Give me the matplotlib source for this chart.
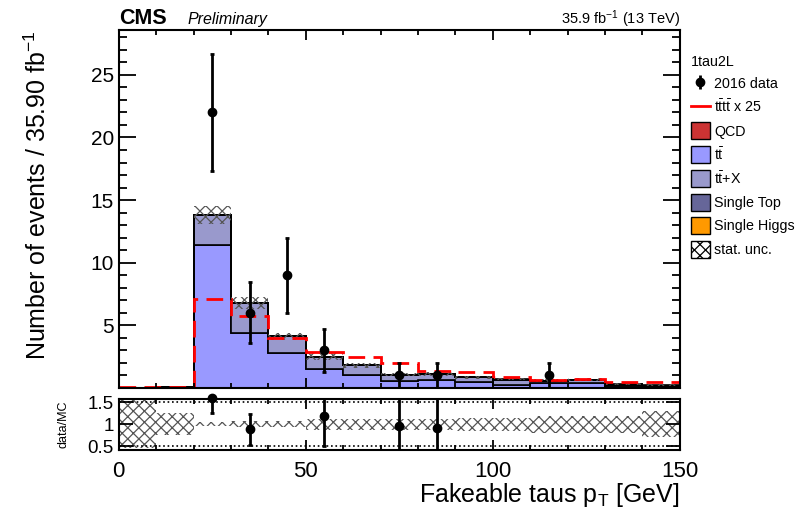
import numpy as np
import matplotlib
matplotlib.use("Agg")
import matplotlib.pyplot as plt
from matplotlib.patches import Patch
from matplotlib.lines import Line2D
from matplotlib.ticker import MultipleLocator

plt.rcParams["font.family"] = ["Liberation Sans", "DejaVu Sans"]
plt.rcParams["mathtext.fontset"] = "custom"
plt.rcParams["mathtext.rm"] = "Liberation Sans"
plt.rcParams["mathtext.it"] = "Liberation Sans:italic"
plt.rcParams["mathtext.bf"] = "Liberation Sans:bold"
plt.rcParams["hatch.linewidth"] = 0.9

# =========================
# Data (10 GeV bins, 0-150)
# =========================
bin_edges = np.arange(0, 151, 10)

ttbar = [0.0, 0.0, 11.4, 4.4, 2.8, 1.5, 1.0, 0.55, 0.6, 0.43, 0.25, 0.35, 0.37, 0.16, 0.05]
ttX = [0.02, 0.05, 2.4, 2.4, 1.3, 1.0, 0.8, 0.5, 0.5, 0.42, 0.4, 0.23, 0.27, 0.1, 0.09]
single_top = [0.0, 0.0, 0.0, 0.0, 0.0, 0.0, 0.0, 0.0, 0.0, 0.0, 0.05, 0.0, 0.0, 0.06, 0.1]
qcd = [0.0] * 15
single_higgs = [0.0] * 15

signal_x25 = [0.03, 0.08, 7.1, 5.7, 4.0, 2.9, 2.5, 1.95, 1.35, 1.23, 0.9, 0.64, 0.7, 0.48, 0.45]
data_2016 = [0, 0, 22, 6, 9, 3, 0, 1, 1, 0, 0, 1, 0, 0, 0]
mc_rel_unc = [0.55, 0.25, 0.05, 0.07, 0.07, 0.12, 0.12, 0.12, 0.12, 0.15, 0.15, 0.2, 0.2, 0.2, 0.3]

# =========================
# Figure / axes
# =========================
fig = plt.figure(figsize=(7.97, 5.15), dpi=100)
ax = fig.add_axes([0.149, 0.247, 0.704, 0.695])
rax = fig.add_axes([0.149, 0.126, 0.704, 0.099])

centers = 0.5 * (bin_edges[:-1] + bin_edges[1:])

components = [
    (ttbar, "#9999ff"),
    (ttX, "#9999cc"),
    (single_top, "#666699"),
    (qcd, "#cc3333"),
    (single_higgs, "#ff9900"),
]

bottom = np.zeros(15)
for values, color in components:
    values = np.array(values)
    if values.sum() == 0:
        continue
    top = bottom + values
    ax.stairs(top, bin_edges, baseline=bottom, fill=True,
              facecolor=color, edgecolor="none")
    ax.stairs(top, bin_edges, baseline=bottom, fill=False,
              color="black", linewidth=1.2)
    bottom = top

total_mc = bottom
mc_unc = total_mc * np.array(mc_rel_unc)

# stat. unc. hatch on the stack
ax.bar(centers, 2 * mc_unc, bottom=total_mc - mc_unc, width=10,
       fill=False, hatch="xxx", edgecolor="#555555", linewidth=0)

# signal x 25
ax.stairs(signal_x25, bin_edges, color="red", linewidth=2,
          linestyle=(0, (6, 3)), baseline=None)

# data
data = np.array(data_2016, dtype=float)
has_data = data > 0
ax.errorbar(centers[has_data], data[has_data], yerr=np.sqrt(data[has_data]),
            fmt="o", color="black", markersize=6, elinewidth=2,
            capsize=1.5, capthick=2)

ax.set_xlim(0, 150)
ax.set_ylim(0, 28.6)
ax.yaxis.set_major_locator(MultipleLocator(5))
ax.yaxis.set_minor_locator(MultipleLocator(1))
ax.xaxis.set_major_locator(MultipleLocator(50))
ax.xaxis.set_minor_locator(MultipleLocator(10))
ax.set_yticks([5, 10, 15, 20, 25])
ax.tick_params(axis="both", which="both", direction="in", top=True, right=True,
               labelsize=15)
ax.tick_params(axis="y", which="major", length=12, width=1.3)
ax.tick_params(axis="y", which="minor", length=6, width=1.3)
ax.tick_params(axis="x", which="major", length=7, width=1.3)
ax.tick_params(axis="x", which="minor", length=3.5, width=1.3)
ax.tick_params(axis="x", labelbottom=False)
for spine in ax.spines.values():
    spine.set_linewidth(1.5)

# =========================
# Ratio panel
# =========================
rax.bar(centers, 2 * np.array(mc_rel_unc), bottom=1 - np.array(mc_rel_unc),
        width=10, fill=False, hatch="xxx", edgecolor="#555555", linewidth=0)
for yv in (0.5, 1.5):
    rax.axhline(yv, color="black", linestyle=":", linewidth=1.2)

ratio = np.where(total_mc > 0, data / np.where(total_mc > 0, total_mc, 1), 0)
ratio_err = np.where(total_mc > 0, np.sqrt(data) / np.where(total_mc > 0, total_mc, 1), 0)
show = has_data & (ratio < 1.65)
rax.errorbar(centers[show], ratio[show], yerr=ratio_err[show], fmt="none",
             ecolor="black", elinewidth=2, capsize=1.5, capthick=2)
rax.plot(centers[show], ratio[show], "o", color="black", markersize=6,
         clip_on=False)

rax.set_xlim(0, 150)
rax.set_ylim(0.41, 1.575)
rax.set_yticks([0.5, 1.0, 1.5])
rax.set_yticklabels(["0.5", "1", "1.5"])
rax.xaxis.set_major_locator(MultipleLocator(50))
rax.xaxis.set_minor_locator(MultipleLocator(10))
rax.tick_params(axis="both", which="both", direction="in", top=True, right=True)
rax.tick_params(axis="y", labelsize=13.5, length=10, width=1.3)
rax.tick_params(axis="x", which="major", labelsize=16, length=7, width=1.3, pad=8)
rax.tick_params(axis="x", which="minor", length=3.5, width=1.3)
for spine in rax.spines.values():
    spine.set_linewidth(1.5)
rax.set_ylabel("data/MC", fontsize=9, labelpad=13)

# =========================
# Labels and texts
# =========================
fig.text(0.047, 0.942, "Number of events / 35.90 fb$^{-1}$", rotation=90,
         ha="center", va="top", fontsize=18)
fig.text(0.853, 0.025, "Fakeable taus p$_\\mathrm{T}$ [GeV]", ha="right",
         va="baseline", fontsize=18)
fig.text(0.150, 0.953, "CMS", fontsize=15.5, fontweight="bold", va="baseline")
fig.text(0.235, 0.953, "Preliminary", fontsize=11.5, style="italic", va="baseline")
fig.text(0.853, 0.953, "35.9 fb$^{-1}$ (13 TeV)", fontsize=10.5, ha="right",
         va="baseline")

# =========================
# Legend
# =========================
data_handle = ax.errorbar([], [], yerr=[], fmt="o", color="black",
                          markersize=6, elinewidth=2)
handles = [
    data_handle,
    Line2D([], [], color="red", linewidth=2),
    Patch(facecolor="#cc3333", edgecolor="black"),
    Patch(facecolor="#9999ff", edgecolor="black"),
    Patch(facecolor="#9999cc", edgecolor="black"),
    Patch(facecolor="#666699", edgecolor="black"),
    Patch(facecolor="#ff9900", edgecolor="black"),
    Patch(facecolor="white", edgecolor="black", hatch="xxx"),
]
labels = [
    "2016 data",
    r"$\mathrm{t\bar{t}t\bar{t}}$ x 25",
    "QCD",
    r"$\mathrm{t\bar{t}}$",
    r"$\mathrm{t\bar{t}}$+X",
    "Single Top",
    "Single Higgs",
    "stat. unc.",
]
leg = fig.legend(handles, labels, loc="upper left",
                 bbox_to_anchor=(0.860, 0.905), frameon=False, fontsize=10.3,
                 title="1tau2L", title_fontsize=10.3, handlelength=1.3,
                 handleheight=1.45, handletextpad=0.3, labelspacing=0.45,
                 borderaxespad=0)
leg._legend_box.align = "left"

fig.savefig("out.png", dpi=100)
